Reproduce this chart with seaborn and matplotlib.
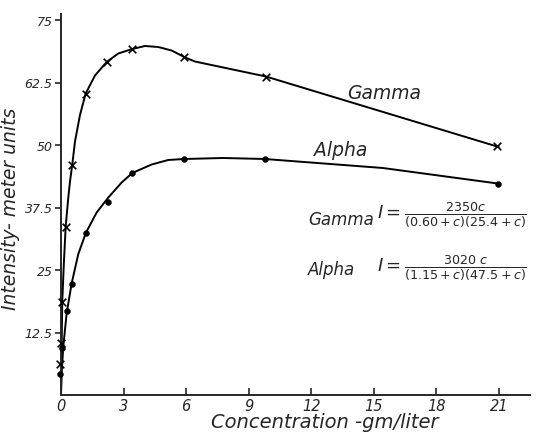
import numpy as np
import pandas as pd
import seaborn as sns
import matplotlib.pyplot as plt

gamma_c = [-0.05, 0.0, 0.06, 0.23, 0.54, 1.18, 2.19, 3.42, 5.91, 9.83, 20.9]
gamma_i = [6.3, 10.5, 18.7, 33.7, 46.0, 60.3, 66.6, 69.2, 67.6, 63.6, 49.8]
alpha_c = [-0.05, 0.06, 0.27, 0.51, 1.2, 2.27, 3.42, 5.9, 9.78, 20.95]
alpha_i = [4.2, 9.4, 16.8, 22.3, 32.5, 38.7, 44.4, 47.2, 47.2, 42.3]

# hand-drawn fitted curves
gamma_curve_c = [0.0, 0.03, 0.06, 0.14, 0.225, 0.35, 0.44, 0.542, 0.671, 0.911,
                 1.184, 1.63, 2.191, 2.747, 3.418, 4.027, 4.664, 5.307, 5.911,
                 6.424, 9.83, 21.0]
gamma_curve_i = [0.0, 9.7, 18.7, 26.6, 33.7, 39.5, 43.0, 46.1, 50.7, 56.0,
                 60.3, 63.9, 66.6, 68.3, 69.2, 69.8, 69.6, 68.9, 67.6,
                 66.7, 63.7, 49.6]
alpha_curve_c = [0.0, 0.03, 0.11, 0.27, 0.51, 0.83, 1.2, 1.71, 2.27, 2.91, 3.42,
                 4.35, 5.14, 5.9, 7.77, 9.78, 15.44, 20.95]
alpha_curve_i = [0.0, 4.4, 9.7, 16.3, 22.3, 28.2, 32.5, 36.5, 39.5, 42.5, 44.4,
                 46.1, 47.0, 47.2, 47.4, 47.2, 45.4, 42.3]

x_ticks = [0, 3, 6, 9, 12, 15, 18, 21]
y_ticks = [12.5, 25, 37.5, 50, 62.5, 75]
y_tick_labels = ["12.5", "25", "37.5", "50", "62.5", "75"]

sns.set_style("ticks")
plt.rcParams['font.family'] = ['DejaVu Sans']
plt.rcParams['mathtext.fontset'] = 'dejavusans'
plt.rcParams['mathtext.default'] = 'it'

fig = plt.figure(figsize=(5.36, 4.35), dpi=100)
ax = fig.add_axes([61 / 536, 39 / 435, 469 / 536, 381 / 435])

gc = pd.DataFrame({"c": gamma_curve_c, "i": gamma_curve_i})
ac = pd.DataFrame({"c": alpha_curve_c, "i": alpha_curve_i})
sns.lineplot(data=gc, x="c", y="i", sort=False, color="black", lw=1.4, ax=ax)
sns.lineplot(data=ac, x="c", y="i", sort=False, color="black", lw=1.4, ax=ax)

sns.scatterplot(x=gamma_c, y=gamma_i, marker="x", s=30, color="black",
                linewidth=1.2, ax=ax, clip_on=False, zorder=3)
sns.scatterplot(x=alpha_c, y=alpha_i, marker="o", s=18, color="black",
                edgecolor="black", ax=ax, clip_on=False, zorder=3)

ax.set_xlim(0, 22.5)
ax.set_ylim(0, 76.2)
ax.set_xticks(x_ticks)
ax.set_xticklabels([str(t) for t in x_ticks], style="italic", fontsize=10.5)
ax.set_yticks(y_ticks)
ax.set_yticklabels(y_tick_labels, style="italic", fontsize=9)
ax.tick_params(axis="x", direction="in", length=5, width=1.2, pad=2)
ax.tick_params(axis="y", direction="out", length=4, width=1.2, pad=2)
for s in ["top", "right"]:
    ax.spines[s].set_visible(False)
for s in ["left", "bottom"]:
    ax.spines[s].set_linewidth(1.4)

ax.set_xlabel("Concentration -gm/liter", style="italic", fontsize=14)
ax.xaxis.set_label_coords(0.563, -0.045)
ax.set_ylabel("Intensity- meter units", style="italic", fontsize=13.5)
ax.yaxis.set_label_coords(-0.088, 0.49)

# curve labels
ax.text(15.5, 60.5, "Gamma", style="italic", fontsize=13.5, ha="center", va="center")
ax.text(13.4, 49.0, "Alpha", style="italic", fontsize=13.5, ha="center", va="center")

# fitted equations
ax.text(11.84, 35.1, "Gamma", style="italic", fontsize=12, ha="left", va="center")
ax.text(15.15, 36.1, r"$I=\frac{2350c}{(0.60+c)(25.4+c)}$", fontsize=13,
        ha="left", va="center")
ax.text(11.84, 25.2, "Alpha", style="italic", fontsize=12, ha="left", va="center")
ax.text(15.15, 25.6, r"$I=\frac{3020\ c}{(1.15+c)(47.5+c)}$", fontsize=13,
        ha="left", va="center")

fig.savefig("out.png", dpi=100)
